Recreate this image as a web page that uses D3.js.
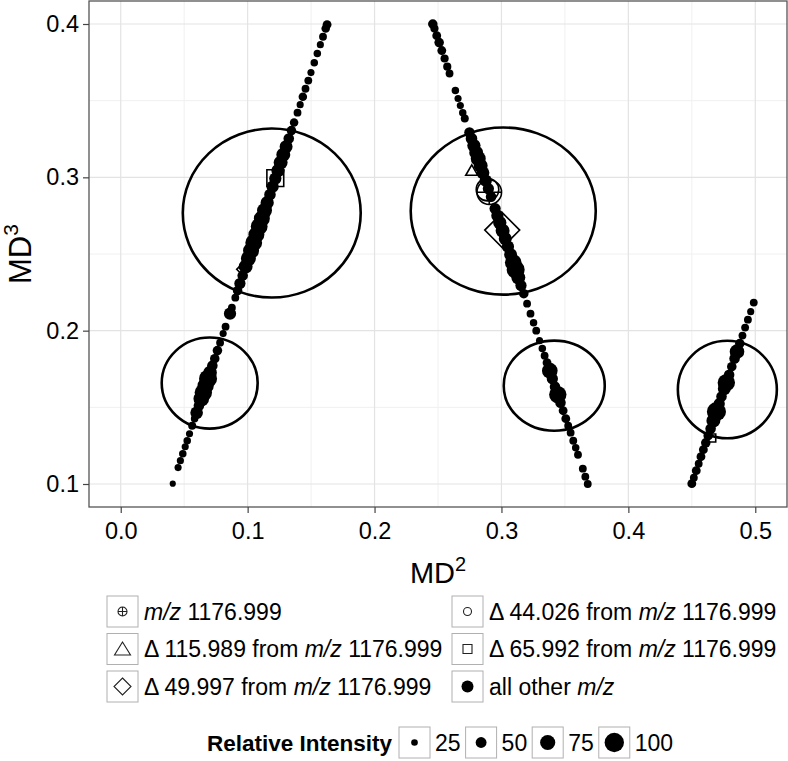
<!DOCTYPE html>
<html>
<head>
<meta charset="utf-8">
<script src="https://cdn.jsdelivr.net/npm/d3@7"></script>
<style>
body { margin: 0; background: #fff; }
text { font-family: "Liberation Sans", Arial, sans-serif; fill: #000; }
</style>
</head>
<body>
<div id="chart"></div>
<script>
// each point: [MD2, MD3, relative intensity]
const branchLeft = [
  [0.0410,0.1002,22],[0.0452,0.1107,28],[0.0470,0.1152,28],[0.0489,0.1198,30],
  [0.0508,0.1243,28],[0.0524,0.1282,30],[0.0542,0.1328,28],[0.0563,0.1380,33],
  [0.0582,0.1426,30],[0.0598,0.1465,60],[0.0616,0.1511,48],[0.0635,0.1556,78],
  [0.0651,0.1596,88],[0.0669,0.1641,82],[0.0688,0.1687,92],[0.0704,0.1726,66],
  [0.0722,0.1772,48],[0.0741,0.1817,42],[0.0762,0.1870,42],[0.0783,0.1922,32],
  [0.0807,0.1981,28],[0.0826,0.2026,32],[0.0861,0.2111,58],[0.0876,0.2150,32],
  [0.0903,0.2215,32],[0.0921,0.2261,42],[0.0939,0.2307,52],[0.0961,0.2359,48],
  [0.0984,0.2418,68],[0.1006,0.2470,74],[0.1027,0.2522,80],[0.1048,0.2574,85],
  [0.1069,0.2626,80],[0.1091,0.2679,85],[0.1112,0.2731,80],[0.1133,0.2783,74],
  [0.1154,0.2835,64],[0.1176,0.2887,54],[0.1197,0.2939,58],[0.1218,0.2992,58],
  [0.1239,0.3044,64],[0.1260,0.3096,68],[0.1281,0.3148,68],[0.1303,0.3200,62],
  [0.1324,0.3253,48],[0.1345,0.3305,42],[0.1366,0.3357,36],[0.1393,0.3422,32],
  [0.1414,0.3474,28],[0.1435,0.3526,36],[0.1456,0.3578,32],[0.1478,0.3631,32],
  [0.1499,0.3683,28],[0.1525,0.3748,30],[0.1549,0.3807,30],[0.1573,0.3865,28],
  [0.1594,0.3917,32],[0.1615,0.3970,36],[0.1626,0.3996,38]
];
const branchMiddle = [
  [0.2459,0.4000,42],[0.2472,0.3970,34],[0.2490,0.3924,38],[0.2509,0.3879,42],
  [0.2530,0.3827,38],[0.2552,0.3775,34],[0.2573,0.3722,34],[0.2591,0.3677,32],
  [0.2637,0.3566,30],[0.2658,0.3514,28],[0.2676,0.3468,28],[0.2695,0.3422,30],
  [0.2711,0.3383,33],[0.2748,0.3292,48],[0.2764,0.3252,54],[0.2783,0.3207,64],
  [0.2801,0.3161,68],[0.2817,0.3122,74],[0.2836,0.3076,68],[0.2854,0.3030,62],
  [0.2876,0.2978,58],[0.2897,0.2926,52],[0.2918,0.2874,48],[0.2950,0.2796,52],
  [0.2968,0.2750,58],[0.2987,0.2704,64],[0.3009,0.2652,68],[0.3030,0.2600,62],
  [0.3051,0.2548,58],[0.3072,0.2496,62],[0.3093,0.2444,84],[0.3112,0.2398,92],
  [0.3133,0.2346,68],[0.3154,0.2294,52],[0.3176,0.2241,42],[0.3202,0.2176,32],
  [0.3229,0.2111,32],[0.3253,0.2052,30],[0.3274,0.2000,32],[0.3300,0.1935,28],
  [0.3322,0.1883,30],[0.3340,0.1837,32],[0.3359,0.1791,38],[0.3381,0.1739,78],
  [0.3401,0.1687,52],[0.3422,0.1635,48],[0.3444,0.1583,88],[0.3465,0.1530,48],
  [0.3486,0.1478,38],[0.3507,0.1426,38],[0.3526,0.1380,32],[0.3545,0.1335,32],
  [0.3566,0.1282,32],[0.3585,0.1237,30],[0.3603,0.1191,32],[0.3641,0.1100,32],
  [0.3661,0.1048,32],[0.3680,0.1000,32]
];
const branchRight = [
  [0.4500,0.1002,38],[0.4516,0.1041,32],[0.4535,0.1087,38],[0.4554,0.1132,32],
  [0.4572,0.1178,38],[0.4591,0.1224,38],[0.4610,0.1269,42],[0.4629,0.1315,42],
  [0.4648,0.1361,48],[0.4670,0.1413,68],[0.4694,0.1472,98],[0.4716,0.1524,52],
  [0.4734,0.1570,48],[0.4756,0.1622,62],[0.4772,0.1661,88],[0.4794,0.1713,48],
  [0.4815,0.1765,42],[0.4837,0.1818,48],[0.4856,0.1863,72],[0.4878,0.1916,42],
  [0.4899,0.1968,32],[0.4920,0.2020,32],[0.4942,0.2072,32],[0.4964,0.2124,28],
  [0.4988,0.2183,32]
];
// highlighted ions: [shape, MD2, MD3, relative intensity]
const flagged = [
  ["plus",0.2904,0.2903,97],["circle",0.2890,0.2920,88],["triangle",0.2766,0.3036,54],
  ["diamond",0.3006,0.2656,100],["diamond",0.0955,0.2400,20],
  ["square",0.1218,0.2995,96],["square",0.4657,0.1300,38]
];
// outlined regions: [centre MD2, centre MD3, radius MD2, radius MD3]
const regions = [
  [0.119,0.2767,0.0701,0.0551],[0.3014,0.2780,0.0729,0.0545],
  [0.0701,0.1658,0.0378,0.0297],[0.3416,0.1641,0.0398,0.0294],
  [0.4780,0.1616,0.0390,0.0318]
];
const xTicks = [0, 0.1, 0.2, 0.3, 0.4, 0.5];
const xMinor = [0.05, 0.15, 0.25, 0.35, 0.45];
const yTicks = [0.1, 0.2, 0.3, 0.4];
const yMinor = [0.15, 0.25, 0.35];
const shapeKeys = ["plus", "triangle", "diamond", "circle", "square", "dot"];
const shapeLabels = [
  [["m/z", true], [" 1176.999", false]],
  [["\u0394 115.989 from ", false], ["m/z", true], [" 1176.999", false]],
  [["\u0394 49.997 from ", false], ["m/z", true], [" 1176.999", false]],
  [["\u0394 44.026 from ", false], ["m/z", true], [" 1176.999", false]],
  [["\u0394 65.992 from ", false], ["m/z", true], [" 1176.999", false]],
  [["all other ", false], ["m/z", true]]
];
const sizeBreaks = [25, 50, 75, 100];

const W = 788, H = 761;
const svg = d3.select("#chart").append("svg").attr("width", W).attr("height", H);

const x = d3.scaleLinear().domain([-0.025, 0.525]).range([89, 787]);
const y = d3.scaleLinear().domain([0.085, 0.415]).range([507, 1]);
const r = d3.scaleLinear().domain([0, 100]).range([1.2, 9.7]);

function shapePath(s, rad) {
  const p = d3.path();
  if (s === "circle" || s === "plus") {
    const R = rad * 1.3;
    p.moveTo(R, 0); p.arc(0, 0, R, 0, 2 * Math.PI);
    if (s === "plus") { p.moveTo(-R, 0); p.lineTo(R, 0); p.moveTo(0, -R); p.lineTo(0, R); }
  } else if (s === "triangle") {
    const R = rad * 1.2;
    p.moveTo(0, -R); p.lineTo(R * 0.866, R / 2); p.lineTo(-R * 0.866, R / 2); p.closePath();
  } else if (s === "diamond") {
    const R = rad * 1.8;
    p.moveTo(0, -R); p.lineTo(R, 0); p.lineTo(0, R); p.lineTo(-R, 0); p.closePath();
  } else if (s === "square") {
    const h = rad * 0.9;
    p.rect(-h, -h, 2 * h, 2 * h);
  }
  return p.toString();
}

// grid
const grid = svg.append("g");
grid.selectAll(".xm").data(xMinor).enter().append("line")
  .attr("x1", d => x(d)).attr("x2", d => x(d)).attr("y1", 1).attr("y2", 507)
  .attr("stroke", "#f0f0f0").attr("stroke-width", 1);
grid.selectAll(".ym").data(yMinor).enter().append("line")
  .attr("y1", d => y(d)).attr("y2", d => y(d)).attr("x1", 89).attr("x2", 787)
  .attr("stroke", "#f0f0f0").attr("stroke-width", 1);
grid.selectAll(".xg").data(xTicks).enter().append("line")
  .attr("x1", d => x(d)).attr("x2", d => x(d)).attr("y1", 1).attr("y2", 507)
  .attr("stroke", "#e3e3e3").attr("stroke-width", 1.2);
grid.selectAll(".yg").data(yTicks).enter().append("line")
  .attr("y1", d => y(d)).attr("y2", d => y(d)).attr("x1", 89).attr("x2", 787)
  .attr("stroke", "#e3e3e3").attr("stroke-width", 1.2);

// points
const allPts = branchLeft.concat(branchMiddle, branchRight);
svg.append("g").selectAll("circle").data(allPts).enter().append("circle")
  .attr("cx", d => x(d[0])).attr("cy", d => y(d[1])).attr("r", d => r(d[2]))
  .attr("fill", "#000");

svg.append("g").selectAll("path").data(flagged).enter().append("path")
  .attr("transform", d => `translate(${x(d[1])},${y(d[2])})`)
  .attr("d", d => shapePath(d[0], r(d[3])))
  .attr("fill", "none").attr("stroke", "#000").attr("stroke-width", 1.6);

svg.append("g").selectAll("ellipse").data(regions).enter().append("ellipse")
  .attr("cx", d => x(d[0])).attr("cy", d => y(d[1]))
  .attr("rx", d => x(d[0] + d[2]) - x(d[0])).attr("ry", d => y(d[1]) - y(d[1] + d[3]))
  .attr("fill", "none").attr("stroke", "#000").attr("stroke-width", 2.6);

// panel border
svg.append("rect").attr("x", 89).attr("y", 1).attr("width", 698).attr("height", 506)
  .attr("fill", "none").attr("stroke", "#555").attr("stroke-width", 1.3);

// axes
const xAxis = svg.append("g").attr("transform", "translate(0,507)")
  .call(d3.axisBottom(x).tickValues(xTicks).tickFormat(d3.format(".1f")).tickSize(6).tickPadding(9));
const yAxis = svg.append("g").attr("transform", "translate(89,0)")
  .call(d3.axisLeft(y).tickValues(yTicks).tickFormat(d3.format(".1f")).tickSize(6).tickPadding(4));
[xAxis, yAxis].forEach(a => {
  a.select(".domain").remove();
  a.selectAll(".tick line").attr("stroke", "#444").attr("stroke-width", 1.2);
  a.selectAll(".tick text").attr("font-size", 23.5).attr("fill", "#000")
    .attr("font-family", "Liberation Sans, Arial, sans-serif");
});

// axis titles
const xt = svg.append("text").attr("x", 438).attr("y", 583).attr("text-anchor", "middle")
  .attr("font-size", 29);
xt.append("tspan").text("MD");
xt.append("tspan").text("2").attr("font-size", 20).attr("dy", -12);

const yt = svg.append("text").attr("transform", "translate(31,254) rotate(-90)")
  .attr("text-anchor", "middle").attr("font-size", 31);
yt.append("tspan").text("MD");
yt.append("tspan").text("3").attr("font-size", 21).attr("dy", -13);

// shape legend
const keyFor = {
  plus: "M4.5,0A4.5,4.5,0,1,1,-4.5,0A4.5,4.5,0,1,1,4.5,0M-4.5,0L4.5,0M0,-4.5L0,4.5",
  triangle: "M0,-7L8,6L-8,6Z",
  diamond: "M0,-8.5L8.5,0L0,8.5L-8.5,0Z",
  circle: "M4,0A4,4,0,1,1,-4,0A4,4,0,1,1,4,0",
  square: "M-4.5,-4.5h9v9h-9Z"
};
const boxCols = [107, 452], boxRows = [596, 633.5, 671], box = 31;
const leg = svg.append("g");
shapeKeys.forEach((k, i) => {
  const bx = boxCols[Math.floor(i / 3)], by = boxRows[i % 3];
  leg.append("rect").attr("x", bx).attr("y", by).attr("width", box).attr("height", box)
    .attr("fill", "#fff").attr("stroke", "#b0b0b0").attr("stroke-width", 1);
  const g = leg.append("g").attr("transform", `translate(${bx + box / 2},${by + box / 2})`);
  if (k === "dot") g.append("circle").attr("r", 6).attr("fill", "#000");
  else g.append("path").attr("d", keyFor[k]).attr("fill", "none").attr("stroke", "#222").attr("stroke-width", 1.1);
  const t = leg.append("text").attr("x", bx + box + 6).attr("y", by + box / 2 + 8).attr("font-size", 23);
  shapeLabels[i].forEach(seg => {
    t.append("tspan").text(seg[0]).attr("font-style", seg[1] ? "italic" : "normal");
  });
});

// size legend
const sl = svg.append("g");
sl.append("text").attr("x", 207).attr("y", 750.5).attr("font-size", 22.5).attr("font-weight", "bold")
  .text("Relative Intensity");
let sx = 399;
sizeBreaks.forEach(v => {
  sl.append("rect").attr("x", sx).attr("y", 727).attr("width", box).attr("height", box)
    .attr("fill", "#fff").attr("stroke", "#b0b0b0").attr("stroke-width", 1);
  sl.append("circle").attr("cx", sx + box / 2).attr("cy", 727 + box / 2).attr("r", r(v)).attr("fill", "#000");
  const t = sl.append("text").attr("x", sx + box + 5).attr("y", 750.5).attr("font-size", 23).text(v);
  sx = sx + box + 5 + t.node().getComputedTextLength() + 5;
});
</script>
</body>
</html>
